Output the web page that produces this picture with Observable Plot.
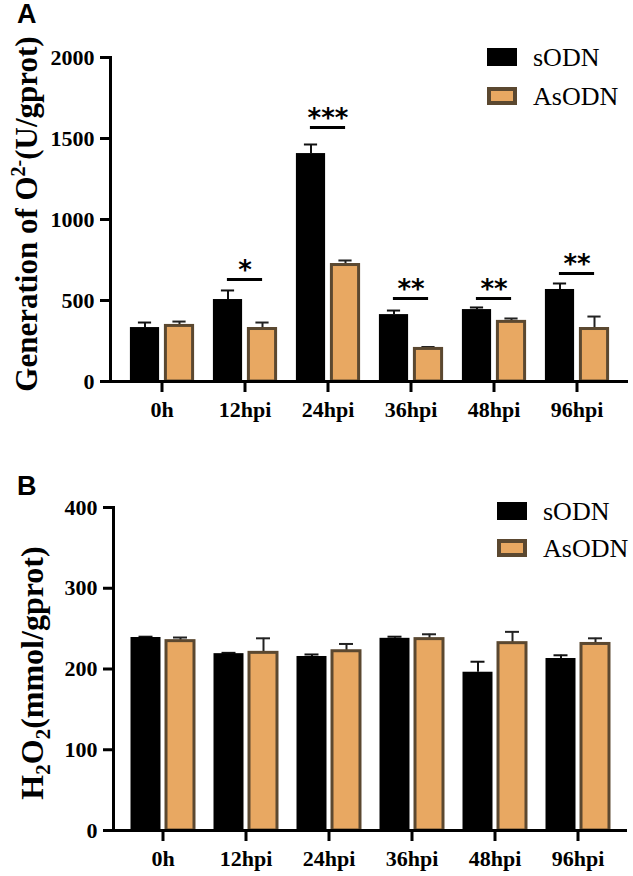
<!DOCTYPE html>
<html><head><meta charset="utf-8">
<script src="https://cdn.jsdelivr.net/npm/d3@7"></script>
<script src="https://cdn.jsdelivr.net/npm/@observablehq/plot@0.6"></script>
<style>
body{margin:0;background:#fff}
#chart svg{display:block}
</style>
</head><body><div id="chart"></div>
<script>
// ---------- data ----------
const categories = ["0h", "12hpi", "24hpi", "36hpi", "48hpi", "96hpi"];
const seriesNames = ["sODN", "AsODN"];

// Panel A: Generation of O2- (U/gprot)
const o2_sODN      = [333, 506, 1407, 413, 444, 568];
const o2_sODN_err  = [31, 56, 56, 25, 13, 37];
const o2_AsODN     = [343, 324, 719, 201, 368, 324];
const o2_AsODN_err = [27, 40, 28, 12, 21, 77];
const o2_ticks     = [0, 500, 1000, 1500, 2000];

// significance marks on panel A
const sigCategories = ["12hpi", "24hpi", "36hpi", "48hpi", "96hpi"];
const sigLevels     = [630, 1568, 512, 512, 667];
const sigLabels     = ["*", "***", "**", "**", "**"];

// Panel B: H2O2 (mmol/gprot)
const h2o2_sODN      = [239, 219, 215.5, 238, 196, 213];
const h2o2_sODN_err  = [1, 1, 2.5, 2, 13, 4];
const h2o2_AsODN     = [234.5, 220, 222, 237, 232, 231];
const h2o2_AsODN_err = [4.5, 18, 9, 6, 14, 7];
const h2o2_ticks     = [0, 100, 200, 300, 400];

// ---------- helpers ----------
const W = 633;
const BLACK = "#000000", ORANGE = "#E8A862", BROWN = "#5B4830";
const SERIF = "'Liberation Serif', 'Times New Roman', serif";

function rows(a, aErr, b, bErr) {
  return categories.flatMap((c, i) => [
    {cat: c, series: seriesNames[0], value: a[i], err: aErr[i]},
    {cat: c, series: seriesNames[1], value: b[i], err: bErr[i]}
  ]);
}

function panel({data, height, marginTop, marginBottom, marginLeft, marginRight, paddingOuter, yDomain, yTicks, sig}) {
  const step = (W - marginLeft - marginRight) / (categories.length + 2 * paddingOuter);
  const h = step / 2;
  const s0 = data.filter(d => d.series === seriesNames[0]);
  const s1 = data.filter(d => d.series === seriesNames[1]);
  const marks = [
    // error bars (drawn first so the bar outline covers their base)
    Plot.ruleX(s0, {x: "cat", y1: "value", y2: d => d.value + d.err, dx: -17, stroke: "#111", strokeWidth: 2}),
    Plot.tickY(s0, {x: "cat", y: d => d.value + d.err, insetLeft: h - 24, insetRight: h + 10, stroke: "#111", strokeWidth: 2}),
    Plot.ruleX(s1, {x: "cat", y1: "value", y2: d => d.value + d.err, dx: 17.5, stroke: "#222", strokeWidth: 2}),
    Plot.tickY(s1, {x: "cat", y: d => d.value + d.err, insetLeft: h + 10.5, insetRight: h - 24.5, stroke: "#222", strokeWidth: 2}),
    // bars
    Plot.rectY(s0, {x: "cat", y: "value", fill: BLACK, insetLeft: h - 32, insetRight: h + 2}),
    Plot.rectY(s1, {x: "cat", y: "value", fill: ORANGE, stroke: BROWN, strokeWidth: 3, insetLeft: h + 3.5, insetRight: h - 31.5}),
    // axes
    Plot.frame({anchor: "left", strokeWidth: 3}),
    Plot.ruleY([0], {strokeWidth: 3}),
    Plot.axisY({ticks: yTicks, tickFormat: d => String(d), tickSize: 10, tickPadding: 6, strokeWidth: 3, label: null,
      fontSize: 22, fontWeight: "bold", fontFamily: SERIF}),
    Plot.axisX({tickSize: 11, tickPadding: 9, strokeWidth: 3, label: null,
      fontSize: 22, fontWeight: "bold", fontFamily: SERIF})
  ];
  if (sig) {
    marks.push(
      Plot.tickY(sig, {x: "cat", y: "level", insetLeft: h - 18, insetRight: h - 18, strokeWidth: 3}),
      Plot.text(sig, {x: "cat", y: "level", text: "label", dy: -9, fontFamily: "'DejaVu Sans', sans-serif", fontWeight: "bold", fontSize: 26, letterSpacing: 2})
    );
  }
  return Plot.plot({
    width: W, height, marginTop, marginBottom, marginLeft, marginRight,
    style: {fontFamily: SERIF, fontSize: "22px", fontWeight: "bold", color: "#000", background: "#fff", overflow: "visible"},
    x: {type: "band", domain: categories, paddingInner: 0, paddingOuter},
    y: {domain: yDomain},
    marks
  });
}

function legend(svg, x, y0, gap) {
  const g = svg.append("g").attr("text-anchor", "start");
  seriesNames.forEach((name, i) => {
    const y = y0 + i * gap;
    if (i === 0) g.append("rect").attr("x", x).attr("y", y).attr("width", 30).attr("height", 18).attr("fill", BLACK);
    else g.append("rect").attr("x", x + 2).attr("y", y + 2).attr("width", 26).attr("height", 14).attr("fill", ORANGE).attr("stroke", BROWN).attr("stroke-width", 4);
    g.append("text").attr("x", x + 46).attr("y", y + 18).attr("text-anchor", "start").attr("font-family", SERIF)
      .attr("font-weight", "normal").attr("font-size", 26).attr("fill", "#000").text(name);
  });
}

function panelLetter(svg, letter, y) {
  svg.append("text").attr("x", 17).attr("y", y).attr("text-anchor", "start").attr("font-family", "'Liberation Sans', Arial, sans-serif")
    .attr("font-weight", "bold").attr("font-size", 27).attr("fill", "#000").text(letter);
}

const root = document.getElementById("chart");

// ---------- Panel A ----------
const sigData = sigCategories.map((c, i) => ({cat: c, level: sigLevels[i], label: sigLabels[i]}));
const plotA = panel({
  data: rows(o2_sODN, o2_sODN_err, o2_AsODN, o2_AsODN_err),
  height: 440, marginTop: 57, marginBottom: 59, marginLeft: 110, marginRight: 5, paddingOuter: 0.09,
  yDomain: [0, 2000], yTicks: o2_ticks, sig: sigData
});
root.appendChild(plotA);
{
  const svg = d3.select(plotA);
  panelLetter(svg, "A", 23);
  const t = svg.append("text").attr("transform", "translate(37,214) rotate(-90)").attr("text-anchor", "middle")
    .attr("font-family", SERIF).attr("font-weight", "bold").attr("font-size", 31).attr("fill", "#000");
  t.append("tspan").text("Generation of O");
  t.append("tspan").attr("dy", -12).attr("font-size", 20).text("2-");
  t.append("tspan").attr("dy", 12).text("(U/gprot)");
  legend(svg, 487, 48, 39);
}

// ---------- Panel B ----------
const plotB = panel({
  data: rows(h2o2_sODN, h2o2_sODN_err, h2o2_AsODN, h2o2_AsODN_err),
  height: 436, marginTop: 67, marginBottom: 46, marginLeft: 113, marginRight: 6, paddingOuter: 0.096,
  yDomain: [0, 400], yTicks: h2o2_ticks, sig: null
});
root.appendChild(plotB);
{
  const svg = d3.select(plotB);
  panelLetter(svg, "B", 55);
  const t = svg.append("text").attr("transform", "translate(43,233) rotate(-90)").attr("text-anchor", "middle")
    .attr("font-family", SERIF).attr("font-weight", "bold").attr("font-size", 32).attr("fill", "#000");
  t.append("tspan").text("H");
  t.append("tspan").attr("dy", 7).attr("font-size", 21).text("2");
  t.append("tspan").attr("dy", -7).text("O");
  t.append("tspan").attr("dy", 7).attr("font-size", 21).text("2");
  t.append("tspan").attr("dy", -7).text("(mmol/gprot)");
  legend(svg, 497, 62, 37);
}
</script>
</body></html>
